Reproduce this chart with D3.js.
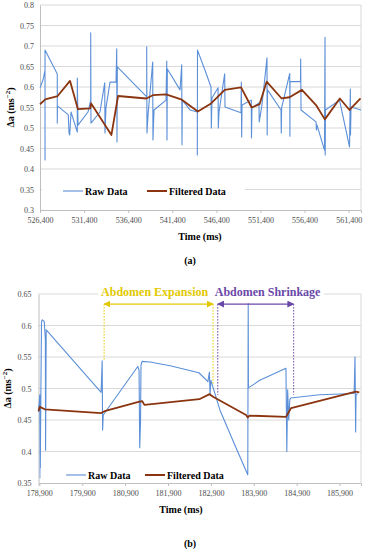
<!DOCTYPE html>
<html>
<head>
<meta charset="utf-8">
<script src="https://cdn.jsdelivr.net/npm/d3@7"></script>
<style>
  body { margin: 0; background: #fff; }
</style>
</head>
<body>
<svg id="fig" width="368" height="550"></svg>
<script>
// ---- data (time in ms, acceleration difference in ms^-2) ----
const topRaw = [
  [526400,0.598],[526740,0.617],[526970,0.641],[526970,0.422],[526970,0.690],[528360,0.632],
  [528360,0.512],[528380,0.554],[529610,0.532],[529690,0.488],[529770,0.483],[529920,0.539],
  [530630,0.490],[530630,0.622],[530710,0.507],[531840,0.539],[532150,0.568],[532150,0.732],
  [532180,0.512],[533200,0.539],[533740,0.610],[533770,0.488],[533880,0.549],[534340,0.612],
  [535020,0.612],[535100,0.693],[535130,0.466],[535170,0.649],[538500,0.576],[538500,0.698],
  [538530,0.488],[538650,0.532],[539180,0.661],[539210,0.471],[539330,0.544],[540690,0.568],
  [540770,0.663],[540800,0.471],[540840,0.644],[542280,0.593],[542470,0.654],[542500,0.459],
  [542540,0.568],[543410,0.544],[544240,0.539],[544240,0.434],[544260,0.690],[545110,0.641],
  [545790,0.600],[545830,0.500],[545900,0.573],[546590,0.598],[546620,0.500],[546700,0.539],
  [547340,0.632],[547380,0.551],[549190,0.537],[549230,0.612],[549270,0.478],[549310,0.556],
  [550360,0.568],[550380,0.476],[550440,0.549],[551230,0.561],[551260,0.515],[551570,0.556],
  [552140,0.671],[552160,0.483],[552200,0.593],[553730,0.544],[553760,0.488],[553800,0.549],
  [554720,0.633],[554740,0.480],[554750,0.613],[555940,0.613],[555960,0.668],[556000,0.544],
  [557700,0.515],[557750,0.495],[557810,0.507],[558660,0.446],[558720,0.721],[558740,0.434],
  [558770,0.544],[560360,0.568],[561500,0.454],[561590,0.595],[561610,0.483],[561670,0.551],
  [562800,0.544]
];
const topFiltered = [
  [526400,0.558],[527000,0.570],[528400,0.578],[529800,0.615],[530700,0.546],[532100,0.548],
  [532200,0.560],[534500,0.483],[535250,0.578],[538450,0.572],[539200,0.580],[540700,0.582],
  [542400,0.570],[544300,0.540],[545800,0.560],[547350,0.593],[549200,0.599],[550400,0.550],
  [551300,0.558],[552100,0.613],[553800,0.572],[554700,0.575],[556100,0.593],[557700,0.556],
  [558700,0.521],[560400,0.572],[561500,0.544],[562750,0.572]
];
const topXTicks = [526400, 531400, 536400, 541400, 546400, 551400, 556400, 561400];
const topYTicks = [0.3, 0.35, 0.4, 0.45, 0.5, 0.55, 0.6, 0.65, 0.7, 0.75, 0.8];

const bottomRaw = [
  [178880,0.463],[178910,0.490],[178920,0.358],[178935,0.490],[178950,0.606],[178970,0.609],
  [179015,0.606],[179040,0.577],[179045,0.402],[179050,0.466],[179060,0.593],[180340,0.494],
  [180365,0.544],[180375,0.434],[180390,0.458],[181195,0.535],[181225,0.529],[181240,0.406],
  [181260,0.450],[181270,0.537],[181295,0.543],[181480,0.542],[181950,0.536],[182620,0.525],
  [182830,0.511],[182865,0.526],[182880,0.490],[182900,0.513],[183110,0.466],[183460,0.410],
  [183760,0.363],[183770,0.635],[183775,0.501],[184040,0.513],[184650,0.532],[184670,0.400],
  [184690,0.498],[184715,0.450],[184740,0.482],[184760,0.485],[185435,0.490],[186240,0.492],
  [186260,0.550],[186275,0.431],[186285,0.490],[186320,0.492]
];
const bottomFiltered = [
  [178880,0.464],[178910,0.471],[179025,0.467],[180340,0.461],[180420,0.464],[181235,0.479],
  [181295,0.480],[181350,0.474],[182630,0.483],[182870,0.491],[182950,0.487],[183720,0.458],
  [183760,0.454],[183800,0.457],[184650,0.455],[184770,0.469],[186280,0.495],[186360,0.494]
];
const bottomXTicks = [178900, 179900, 180900, 181900, 182900, 183900, 184900, 185900];
const bottomYTicks = [0.35, 0.4, 0.45, 0.5, 0.55, 0.6, 0.65];

// breathing phases marked on panel (b): start/end time, arrow level, dotted line ends
const phaseLabels = ["Abdomen Expansion", "Abdomen Shrinkage"];
const phaseStart = [180410, 183060];
const phaseEnd = [182950, 184830];
const phaseLevel = [0.634, 0.634];
const phaseStartLow = [0.544, 0.490];
const phaseEndLow = [0.505, 0.490];

// ---- drawing ----
const svg = d3.select("#fig");
const serif = "'Liberation Serif', 'DejaVu Serif', serif";
const rawColor = "#5b8fd8";
const filtColor = "#8b3510";
const phaseColors = ["#e2c800", "#6a48a8"];

const defs = svg.append("defs");
phaseColors.forEach((c, i) => {
  defs.append("marker")
    .attr("id", "arrow" + i)
    .attr("viewBox", "0 0 10 10")
    .attr("refX", 9).attr("refY", 5)
    .attr("markerWidth", 7).attr("markerHeight", 7)
    .attr("markerUnits", "userSpaceOnUse")
    .attr("orient", "auto-start-reverse")
    .append("path")
    .attr("d", "M0,0L10,5L0,10z")
    .attr("fill", c);
});

function drawPanel(p) {
  const x = d3.scaleLinear().domain(p.xDomain).range([p.left, p.right]);
  const y = d3.scaleLinear().domain([p.yTicks[0], p.yTicks[p.yTicks.length - 1]]).range([p.bottom, p.top]);
  const g = svg.append("g");

  g.selectAll("line.grid")
    .data(p.yTicks.slice(1))
    .enter().append("line")
    .attr("class", "grid")
    .attr("x1", p.left).attr("x2", p.right)
    .attr("y1", d => y(d)).attr("y2", d => y(d))
    .attr("stroke", "#d9d9d9");

  g.append("line")
    .attr("x1", p.right).attr("x2", p.right)
    .attr("y1", p.top).attr("y2", p.bottom)
    .attr("stroke", "#d9d9d9");

  const yAxis = g.append("g")
    .attr("transform", `translate(${p.left},0)`)
    .call(d3.axisLeft(y).tickValues(p.yTicks).tickSize(0).tickPadding(p.yPad)
      .tickFormat(d => +d.toFixed(2)));

  const xAxis = g.append("g")
    .attr("transform", `translate(0,${p.bottom})`)
    .call(d3.axisBottom(x).tickValues(p.xTicks).tickSize(3).tickPadding(4)
      .tickFormat(d3.format(",")));

  [yAxis, xAxis].forEach(a => {
    a.attr("font-family", serif).attr("font-size", 8);
    a.select(".domain").attr("stroke", "#bfbfbf");
    a.selectAll(".tick line").attr("stroke", "#bfbfbf");
    a.selectAll(".tick text").attr("fill", "#4d4d4d");
  });

  const line = d3.line().x(d => x(d[0])).y(d => y(d[1]));

  g.append("path")
    .datum(p.raw)
    .attr("fill", "none")
    .attr("stroke", rawColor)
    .attr("stroke-width", 1.1)
    .attr("stroke-linejoin", "round")
    .attr("d", line);

  g.append("path")
    .datum(p.filtered)
    .attr("fill", "none")
    .attr("stroke", filtColor)
    .attr("stroke-width", 1.8)
    .attr("stroke-linejoin", "round")
    .attr("d", line);

  // legend
  const lg = g.append("g").attr("transform", `translate(0,${p.legendY})`);
  lg.append("rect")
    .attr("x", p.left + 2).attr("y", -7)
    .attr("width", p.legendW).attr("height", 14)
    .attr("fill", "#fff");
  const items = [["Raw Data", rawColor, 1.1, p.legendX[0]], ["Filtered Data", filtColor, 2, p.legendX[1]]];
  items.forEach(([name, c, w, lx]) => {
    lg.append("line")
      .attr("x1", lx).attr("x2", lx + 20)
      .attr("stroke", c).attr("stroke-width", w);
    lg.append("text")
      .attr("x", lx + 22).attr("y", 3.5)
      .attr("font-family", serif).attr("font-size", 10).attr("font-weight", "bold")
      .attr("fill", "#000")
      .text(name);
  });

  // axis titles
  g.append("text")
    .attr("x", p.xTitleX).attr("y", p.bottom + 30)
    .attr("text-anchor", "middle")
    .attr("font-family", serif).attr("font-size", 10).attr("font-weight", "bold")
    .text("Time (ms)");

  const yt = g.append("text")
    .attr("transform", `translate(${p.yTitleX},${(p.top + p.bottom) / 2}) rotate(-90)`)
    .attr("text-anchor", "middle")
    .attr("font-family", serif).attr("font-size", 10).attr("font-weight", "bold");
  yt.append("tspan").text("Δa (ms");
  yt.append("tspan").attr("dy", -4).attr("font-size", 7).text("−2");
  yt.append("tspan").attr("dy", 4).text(")");

  g.append("text")
    .attr("x", 190).attr("y", p.captionY)
    .attr("text-anchor", "middle")
    .attr("font-family", serif).attr("font-size", 10).attr("font-weight", "bold")
    .text(p.caption);

  return { x, y, g };
}

drawPanel({
  left: 40, right: 361, top: 5, bottom: 210,
  xDomain: [526400, 562800], xTicks: topXTicks, yTicks: topYTicks, yPad: 6,
  raw: topRaw, filtered: topFiltered,
  legendY: 191, legendW: 203, legendX: [63, 147],
  xTitleX: 200, yTitleX: 14, captionY: 264, caption: "(a)"
});

const b = drawPanel({
  left: 38.5, right: 361, top: 294, bottom: 483,
  xDomain: [178880, 186400], xTicks: bottomXTicks, yTicks: bottomYTicks, yPad: 7,
  raw: bottomRaw, filtered: bottomFiltered,
  legendY: 475, legendW: 180, legendX: [66, 145],
  xTitleX: 181, yTitleX: 11, captionY: 547, caption: "(b)"
});

// phase annotations on panel (b)
phaseLabels.forEach((label, i) => {
  const c = phaseColors[i];
  const x0 = b.x(phaseStart[i]), x1 = b.x(phaseEnd[i]), ya = b.y(phaseLevel[i]);
  const ag = b.g.append("g");
  ag.append("line")
    .attr("x1", x0).attr("x2", x0).attr("y1", ya).attr("y2", b.y(phaseStartLow[i]))
    .attr("stroke", c).attr("stroke-width", 1).attr("stroke-dasharray", "1.5,1.5");
  ag.append("line")
    .attr("x1", x1).attr("x2", x1).attr("y1", ya).attr("y2", b.y(phaseEndLow[i]))
    .attr("stroke", c).attr("stroke-width", 1).attr("stroke-dasharray", "1.5,1.5");
  ag.append("line")
    .attr("x1", x0).attr("x2", x1).attr("y1", ya).attr("y2", ya)
    .attr("stroke", c).attr("stroke-width", 1.2)
    .attr("marker-start", `url(#arrow${i})`)
    .attr("marker-end", `url(#arrow${i})`);
  const t = ag.append("text")
    .attr("x", x0 - 3).attr("y", ya - 8)
    .attr("font-family", serif).attr("font-size", 12).attr("font-weight", "bold")
    .attr("fill", c)
    .text(label);
  const bb = t.node().getBBox();
  ag.insert("rect", "text")
    .attr("x", bb.x - 3).attr("y", bb.y)
    .attr("width", bb.width + 6).attr("height", bb.height)
    .attr("fill", "#fff");
});
</script>
</body>
</html>
